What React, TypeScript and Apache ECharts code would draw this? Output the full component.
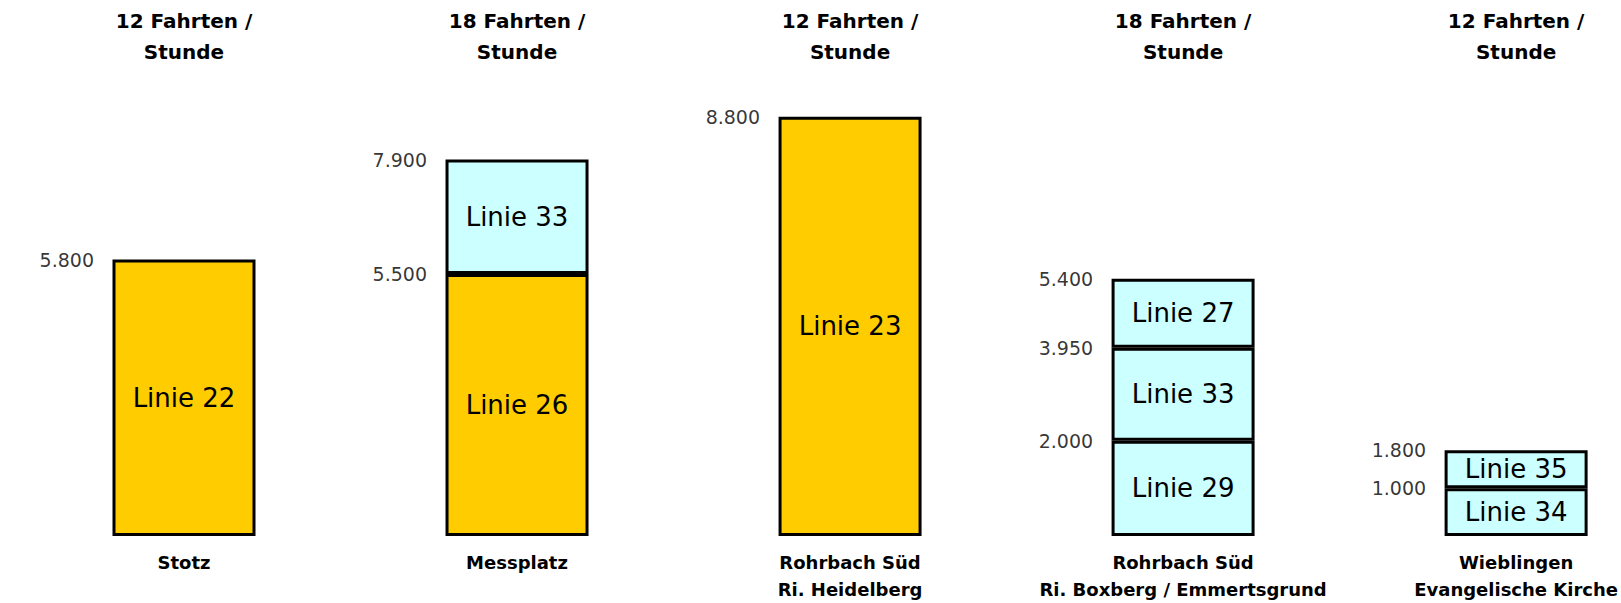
import React, { useEffect, useRef } from "react";
import * as echarts from "echarts";

const categories = [
  "Stotz",
  "Messplatz",
  "Rohrbach Süd\nRi. Heidelberg",
  "Rohrbach Süd\nRi. Boxberg / Emmertsgrund",
  "Wieblingen\nEvangelische Kirche",
];
const frequencies = [
  "12 Fahrten /\nStunde",
  "18 Fahrten /\nStunde",
  "12 Fahrten /\nStunde",
  "18 Fahrten /\nStunde",
  "12 Fahrten /\nStunde",
];

// stacked segments, from bottom to top
const level1Values = [5800, 5500, 8800, 2000, 1000];
const level1Lines = ["Linie 22", "Linie 26", "Linie 23", "Linie 29", "Linie 34"];
const level1Kinds = ["gold", "gold", "gold", "cyan", "cyan"];

const level2Values = [null, 2400, null, 1950, 800];
const level2Lines = ["", "Linie 33", "", "Linie 33", "Linie 35"];
const level2Kinds = ["", "cyan", "", "cyan", "cyan"];

const level3Values = [null, null, null, 1450, null];
const level3Lines = ["", "", "", "Linie 27", ""];
const level3Kinds = ["", "", "", "cyan", ""];

const COLORS: Record<string, string> = { gold: "#FFCC00", cyan: "#CCFFFF" };
const FONT = "DejaVu Sans";
const BAR_WIDTH = 143;

const levels = [
  { values: level1Values, lines: level1Lines, kinds: level1Kinds },
  { values: level2Values, lines: level2Lines, kinds: level2Kinds },
  { values: level3Values, lines: level3Lines, kinds: level3Kinds },
];

function fmt(v: number): string {
  const t = Math.floor(v / 1000);
  const r = Math.round(v % 1000);
  return t + "." + String(r).padStart(3, "0");
}

export default function App() {
  const ref = useRef<HTMLDivElement>(null);
  useEffect(() => {
    if (!ref.current) return;
    const chart = echarts.init(ref.current, undefined, { renderer: "svg" });

    const barSeries = levels.map((lv, li) => ({
      type: "bar",
      name: "level" + (li + 1),
      stack: "total",
      barWidth: BAR_WIDTH,
      data: lv.values.map((v, i) =>
        v == null
          ? null
          : {
              value: v,
              itemStyle: {
                color: COLORS[lv.kinds[i]],
                borderColor: "#000",
                borderWidth: 3,
              },
            }
      ),
      label: {
        show: true,
        position: "inside",
        formatter: (p: any) => lv.lines[p.dataIndex],
        fontFamily: FONT,
        fontSize: 26,
        color: "#000",
      },
      silent: true,
    }));

    const topPoints: number[][] = [];
    categories.forEach((_, i) => {
      let cum = 0;
      levels.forEach((lv) => {
        const v = lv.values[i];
        if (v != null) {
          cum += v;
          topPoints.push([i, cum]);
        }
      });
    });

    const option: any = {
      animation: false,
      grid: { left: 184, right: 101, top: 69, bottom: 66.5 },
      xAxis: [
        {
          type: "category",
          data: categories,
          boundaryGap: false,
          axisLine: { show: false },
          axisTick: { show: false },
          splitLine: { show: false },
          axisLabel: {
            interval: 0,
            fontFamily: FONT,
            fontSize: 18,
            fontWeight: "bold",
            color: "#000",
            lineHeight: 27,
            margin: 13,
          },
        },
        {
          type: "category",
          position: "top",
          data: frequencies,
          boundaryGap: false,
          axisLine: { show: false },
          axisTick: { show: false },
          splitLine: { show: false },
          axisLabel: {
            interval: 0,
            fontFamily: FONT,
            fontSize: 20,
            fontWeight: "bold",
            color: "#000",
            lineHeight: 31,
            margin: 2,
          },
        },
      ],
      yAxis: { type: "value", min: 0, max: 9800, show: false },
      series: [
        ...barSeries,
        {
          type: "scatter",
          data: topPoints,
          symbolSize: 1,
          itemStyle: { color: "rgba(0,0,0,0)" },
          silent: true,
          z: 5,
          label: {
            show: true,
            position: "left",
            distance: BAR_WIDTH / 2 + 18,
            formatter: (p: any) => fmt(p.value[1]),
            fontFamily: FONT,
            fontSize: 19,
            color: "#000",
          },
        },
      ],
    };
    chart.setOption(option);
    return () => chart.dispose();
  }, []);
  return (
    <div
      ref={ref}
      style={{ position: "fixed", left: 0, top: 0, width: 1621, height: 603, background: "#fff" }}
    />
  );
}
